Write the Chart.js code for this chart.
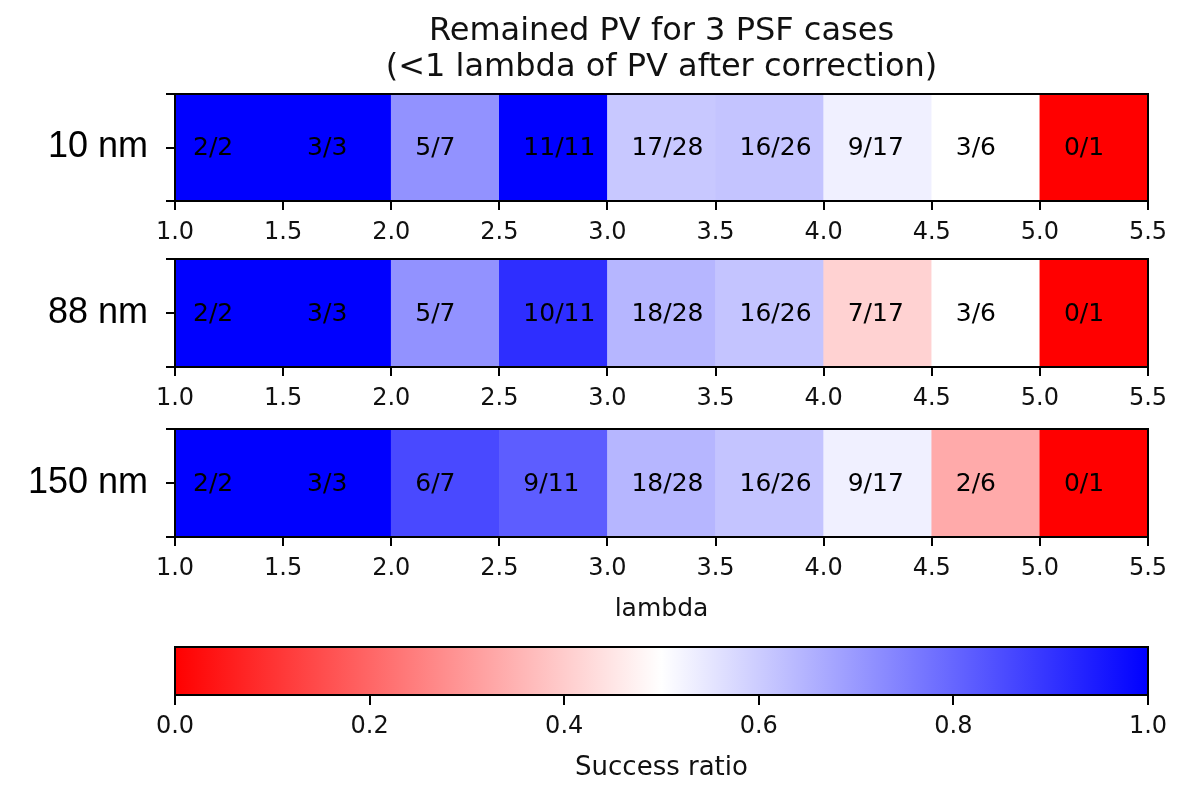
<!DOCTYPE html>
<html>
<head>
<meta charset="utf-8">
<script src="https://cdn.jsdelivr.net/npm/chart.js@4.4.1/dist/chart.umd.min.js"></script>
<style>
  html, body { margin: 0; padding: 0; background: #fff; }
  #wrap { position: relative; width: 1189px; height: 800px; overflow: hidden; }
  #wrap canvas { position: absolute; left: 0; }
</style>
</head>
<body>
<div id="wrap">
  <canvas id="strip0" width="1189" height="250" style="top:0px"></canvas>
  <canvas id="strip1" width="1189" height="165" style="top:250px"></canvas>
  <canvas id="strip2" width="1189" height="210" style="top:420px"></canvas>
  <canvas id="cbar" width="1189" height="170" style="top:630px"></canvas>
</div>
<script>
// lambda bins (centre of each 0.5 wide bin)
const binCenters = [1.25, 1.75, 2.25, 2.75, 3.25, 3.75, 4.25, 4.75, 5.25];
const totals = [2, 3, 7, 11, 28, 26, 17, 6, 1];
const cases = ['10 nm', '88 nm', '150 nm'];
const success10 = [2, 3, 5, 11, 17, 16, 9, 3, 0];
const success88 = [2, 3, 5, 10, 18, 16, 7, 3, 0];
const success150 = [2, 3, 6, 9, 18, 16, 9, 2, 0];
const lambdaTicks = [1.0, 1.5, 2.0, 2.5, 3.0, 3.5, 4.0, 4.5, 5.0, 5.5];
const ratioTicks = [0.0, 0.2, 0.4, 0.6, 0.8, 1.0];
// red -> white -> blue colormap
const cmapStops = [0, 0.5, 1];
const cmapColors = [[255, 0, 0], [255, 255, 255], [0, 0, 255]];

const txt = '#111';
const dv = '"DejaVu Sans", sans-serif';

function cmap(v) {
  let i = 0;
  while (i < cmapStops.length - 2 && v > cmapStops[i + 1]) i++;
  const t = (v - cmapStops[i]) / (cmapStops[i + 1] - cmapStops[i]);
  const a = cmapColors[i], b = cmapColors[i + 1];
  const c = a.map((ch, k) => Math.round(ch + (b[k] - ch) * t));
  return 'rgb(' + c.join(',') + ')';
}

// count labels sit a little in from the left edge of each cell
const cellText = {
  id: 'cellText',
  afterDatasetsDraw(chart, args, opts) {
    const { ctx, chartArea } = chart;
    const meta = chart.getDatasetMeta(0);
    const yMid = (chartArea.top + chartArea.bottom) / 2 + 1;
    ctx.save();
    ctx.font = '25px ' + dv;
    ctx.fillStyle = '#000';
    ctx.textAlign = 'left';
    ctx.textBaseline = 'middle';
    meta.data.forEach((bar, i) => {
      const inset = i === 0 ? 18 : 24;
      ctx.fillText(opts.labels[i], bar.x - bar.width / 2 + inset, yMid);
    });
    ctx.restore();
  }
};

const frame = {
  id: 'frame',
  afterDraw(chart) {
    const { ctx, chartArea: a } = chart;
    ctx.save();
    ctx.strokeStyle = '#000';
    ctx.lineWidth = 2;
    ctx.strokeRect(a.left, a.top, a.right - a.left, a.bottom - a.top);
    ctx.restore();
  }
};

const gradientFill = {
  id: 'gradientFill',
  beforeDatasetsDraw(chart) {
    const { ctx, chartArea: a, scales } = chart;
    const x0 = scales.x.getPixelForValue(0), x1 = scales.x.getPixelForValue(1);
    const g = ctx.createLinearGradient(x0, 0, x1, 0);
    cmapStops.forEach((s, i) => g.addColorStop(s, 'rgb(' + cmapColors[i].join(',') + ')'));
    ctx.save();
    ctx.fillStyle = g;
    ctx.fillRect(a.left, a.top, a.right - a.left, a.bottom - a.top);
    ctx.restore();
  }
};

function makeStrip(id, name, success, opts) {
  const ratios = success.map((s, i) => s / totals[i]);
  const labels = success.map((s, i) => s + '/' + totals[i]);
  return new Chart(document.getElementById(id), {
    type: 'bar',
    data: {
      datasets: [{
        data: binCenters.map(x => ({ x: x, y: 1 })),
        backgroundColor: ratios.map(cmap),
        borderWidth: 0,
        barPercentage: 1,
        categoryPercentage: 1
      }]
    },
    options: {
      responsive: false,
      animation: false,
      layout: { padding: { top: opts.padTop, right: 41, left: 0, bottom: 0 } },
      plugins: {
        legend: { display: false },
        tooltip: { enabled: false },
        title: opts.title || { display: false },
        cellText: { labels: labels }
      },
      scales: {
        x: {
          type: 'linear', min: 1, max: 5.5, offset: false,
          border: { display: false },
          grid: { offset: false, drawOnChartArea: false, drawTicks: true, tickLength: 9, color: '#000', lineWidth: 2 },
          ticks: { font: { family: dv, size: 24 }, color: txt, padding: 8, autoSkip: false, maxRotation: 0,
                   callback: v => v.toFixed(1) },
          afterBuildTicks: s => { s.ticks = lambdaTicks.map(v => ({ value: v })); },
          afterFit: s => { s.height = opts.axisH; },
          title: opts.xTitle || { display: false }
        },
        y: {
          min: 0, max: 1,
          border: { display: false },
          grid: { drawOnChartArea: false, drawTicks: true, tickLength: 9, color: '#000', lineWidth: 2 },
          ticks: { font: { family: '"Liberation Sans", Arial, sans-serif', size: 36 }, color: '#000', padding: 18,
                   autoSkip: false, callback: v => (v === 0.5 ? name : '') },
          afterBuildTicks: s => { s.ticks = [0, 0.5, 1].map(v => ({ value: v })); },
          afterFit: s => { s.width = 175; s.paddingTop = 0; s.paddingBottom = 0; }
        }
      }
    },
    plugins: [cellText, frame]
  });
}

makeStrip('strip0', cases[0], success10, {
  padTop: 0, axisH: 49,
  title: {
    display: true,
    fullSize: false,
    text: ['Remained PV for 3 PSF cases', '(<1 lambda of PV after correction)'],
    font: { family: dv, size: 32, weight: 'normal', lineHeight: 1.125 },
    color: txt,
    padding: { top: 14, bottom: 8 }
  }
});
makeStrip('strip1', cases[1], success88, { padTop: 9, axisH: 48 });
makeStrip('strip2', cases[2], success150, {
  padTop: 9, axisH: 93,
  xTitle: { display: true, text: 'lambda', color: txt, font: { family: dv, size: 25 }, padding: { top: 0, bottom: 6 } }
});

new Chart(document.getElementById('cbar'), {
  type: 'scatter',
  data: { datasets: [] },
  options: {
    responsive: false,
    animation: false,
    layout: { padding: { top: 17, right: 41, left: 175, bottom: 0 } },
    plugins: { legend: { display: false }, tooltip: { enabled: false } },
    scales: {
      x: {
        type: 'linear', min: 0, max: 1,
        border: { display: false },
        grid: { drawOnChartArea: false, drawTicks: true, tickLength: 10, color: '#000', lineWidth: 2 },
        ticks: { font: { family: dv, size: 24 }, color: txt, padding: 7, autoSkip: false, maxRotation: 0,
                 callback: v => v.toFixed(1) },
        afterBuildTicks: s => { s.ticks = ratioTicks.map(v => ({ value: v })); },
        afterFit: s => { s.height = 105; },
        title: { display: true, text: 'Success ratio', color: txt, font: { family: dv, size: 26 }, padding: { top: 0, bottom: 16 } }
      },
      y: { display: false, min: 0, max: 1 }
    }
  },
  plugins: [gradientFill, frame]
});
</script>
</body>
</html>
